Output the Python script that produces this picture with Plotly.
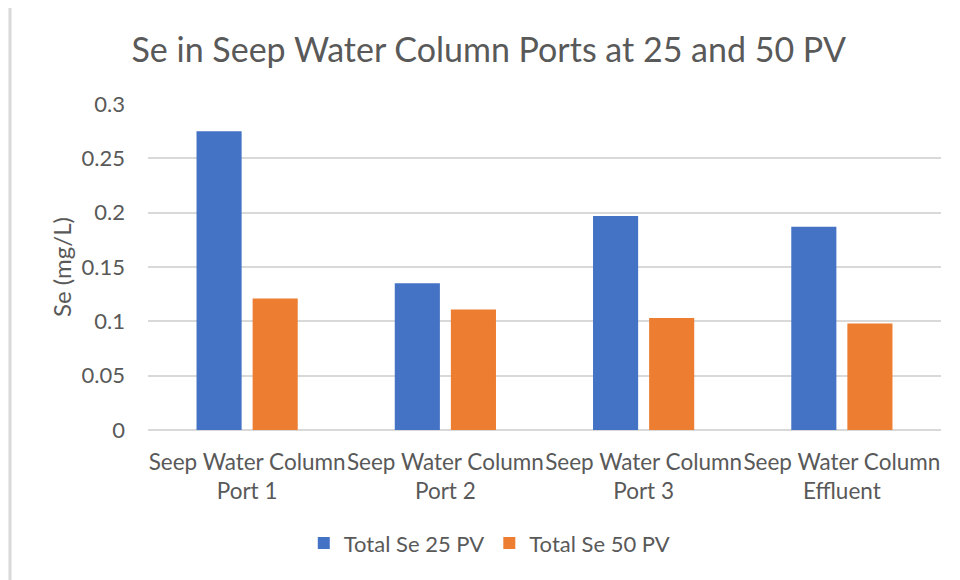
import plotly.graph_objects as go

categories = ["Seep Water Column<br>Port 1", "Seep Water Column<br>Port 2",
              "Seep Water Column<br>Port 3", "Seep Water Column<br>Effluent"]
se_25pv = [0.275, 0.135, 0.197, 0.187]
se_50pv = [0.121, 0.111, 0.103, 0.098]
y_ticks = [0, 0.05, 0.1, 0.15, 0.2, 0.25, 0.3]
y_tick_labels = ["0", "0.05", "0.1", "0.15", "0.2", "0.25", "0.3"]

FONT = "Lato"
GRAY = "#595959"

fig = go.Figure()
fig.add_trace(go.Bar(name="Total Se 25 PV", x=categories, y=se_25pv,
                     marker=dict(color="#4472C4", line=dict(width=0))))
fig.add_trace(go.Bar(name="Total Se 50 PV", x=categories, y=se_50pv,
                     marker=dict(color="#ED7D31", line=dict(width=0))))

fig.update_layout(
    width=952, height=572,
    margin=dict(l=140, r=19, t=96, b=150, autoexpand=False),
    paper_bgcolor="white", plot_bgcolor="white",
    barmode="group", bargap=0.434, bargroupgap=0.196,
    font=dict(family=FONT, color=GRAY, size=22),
    title=dict(text="Se in Seep Water Column Ports at 25 and 50 PV",
               xref="container", x=0.505, xanchor="center",
               yref="container", y=0.927, yanchor="middle",
               font=dict(family=FONT, size=34, color=GRAY)),
    legend=dict(orientation="h", x=0.431, xanchor="center", y=-0.347, yanchor="middle",
                font=dict(family=FONT, size=22, color=GRAY),
                itemwidth=30, tracegroupgap=0),
    showlegend=True,
)
fig.update_xaxes(showgrid=False, showline=False, zeroline=False,
                 tickangle=0, automargin=False,
                 tickfont=dict(family=FONT, size=22.5, color=GRAY),
                 ticklabelstandoff=16)
fig.update_yaxes(range=[0, 0.3], tickvals=y_ticks, ticktext=y_tick_labels,
                 showgrid=True, gridcolor="#D9D9D9", gridwidth=1.5,
                 zeroline=True, zerolinecolor="#D9D9D9", zerolinewidth=1.5,
                 showline=False, automargin=False,
                 tickfont=dict(family=FONT, size=22, color=GRAY),
                 ticklabelstandoff=22,
                 title=dict(text="Se (mg/L)", standoff=3,
                            font=dict(family=FONT, size=24, color=GRAY)))

# light chart frame (left and top edges visible in the reference)
fig.add_shape(type="line", xref="paper", yref="paper",
              x0=-0.174, x1=-0.174, y0=-0.46, y1=1.30,
              line=dict(color="#D9D9D9", width=3))
fig.add_shape(type="line", xref="paper", yref="paper",
              x0=-0.174, x1=1.03, y0=1.30, y1=1.30,
              line=dict(color="#D9D9D9", width=2))

fig.write_html("out.html")
